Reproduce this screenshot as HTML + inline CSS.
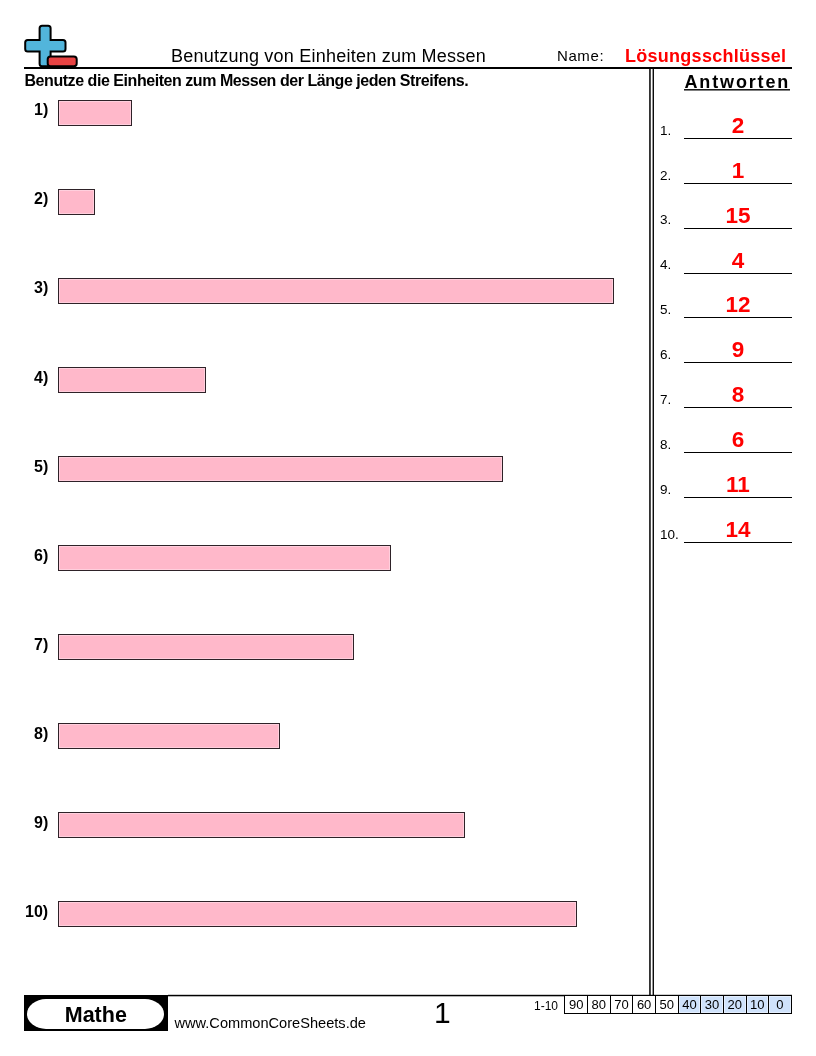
<!DOCTYPE html>
<html><head><meta charset="utf-8">
<style>
*{margin:0;padding:0;box-sizing:border-box}
html,body{width:816px;height:1056px;background:#fff;overflow:hidden}
body{position:relative;will-change:transform;font-family:"Liberation Sans",sans-serif;color:#000}
.a{position:absolute;white-space:nowrap}
.hline{position:absolute;background:#000}
.box{position:absolute;left:57.5px;height:26px;background:#ffb8ca;border:1px solid #2e2228;border-bottom-width:1.5px;box-shadow:inset 0 0 0 1px #ffcfdd}
.lbl{position:absolute;font-weight:bold;font-size:16px;line-height:16px}
.num{position:absolute;left:660px;font-size:13.5px;line-height:13px}
.ans{position:absolute;left:684px;width:108px;text-align:center;color:#f00;font-weight:bold;font-size:22.5px;line-height:22px}
.aline{position:absolute;left:684px;width:108px;height:1px;background:#000}
.cell{position:absolute;top:995px;height:19px;border:1px solid #000;font-size:13px;line-height:18px;text-align:center}
</style></head><body>
<svg class="a" style="left:0;top:0" width="100" height="80">
  <path d="M42.1 25.7 h6 a2.5 2.5 0 0 1 2.5 2.5 v11.9 h12.4 a2.5 2.5 0 0 1 2.5 2.5 v6.5 a2.5 2.5 0 0 1 -2.5 2.5 h-12.4 v12.2 a2.5 2.5 0 0 1 -2.5 2.5 h-6 a2.5 2.5 0 0 1 -2.5 -2.5 v-12.2 h-11.9 a2.5 2.5 0 0 1 -2.5 -2.5 v-6.5 a2.5 2.5 0 0 1 2.5 -2.5 h11.9 v-11.9 a2.5 2.5 0 0 1 2.5 -2.5z" fill="#52b5db" stroke="#000" stroke-width="2"/>
  <rect x="47.7" y="56.5" width="29" height="9.7" rx="2.8" fill="#e84343" stroke="#000" stroke-width="2"/>
</svg>
<div class="a" style="left:171px;top:45px;font-size:18px;line-height:22px;letter-spacing:0.23px">Benutzung von Einheiten zum Messen</div>
<div class="a" style="left:557px;top:47px;font-size:15px;line-height:18px;letter-spacing:0.6px">Name:</div>
<div class="a" style="left:625px;top:45.5px;font-size:18px;line-height:20px;color:#f00;font-weight:bold;letter-spacing:0.27px">Lösungsschlüssel</div>
<div class="hline" style="left:24px;top:67px;width:768px;height:2px"></div>
<div class="a" style="left:24.5px;top:72px;font-size:16px;line-height:17px;font-weight:bold;letter-spacing:-0.45px">Benutze die Einheiten zum Messen der Länge jeden Streifens.</div>
<svg class="a" style="left:640px;top:60px" width="20" height="940"><rect x="9.2" y="9" width="1.5" height="926" fill="#000"/><rect x="12.6" y="9" width="1.35" height="926" fill="#000"/></svg>
<div class="a" style="left:684.5px;top:72.5px;font-size:18px;line-height:19px;font-weight:bold;letter-spacing:1.85px">Antworten</div>
<svg class="a" style="left:680px;top:85px" width="120" height="10"><rect x="4" y="4.1" width="106" height="1.4" fill="#000"/></svg>
<div class="lbl" style="left:34px;top:102.4px">1)</div>
<div class="box" style="top:99.9px;width:74.50px"></div>
<div class="lbl" style="left:34px;top:191.4px">2)</div>
<div class="box" style="top:188.9px;width:37.45px"></div>
<div class="lbl" style="left:34px;top:280.4px">3)</div>
<div class="box" style="top:277.9px;width:556.15px"></div>
<div class="lbl" style="left:34px;top:369.5px">4)</div>
<div class="box" style="top:367.0px;width:148.60px"></div>
<div class="lbl" style="left:34px;top:458.5px">5)</div>
<div class="box" style="top:456.0px;width:445.00px"></div>
<div class="lbl" style="left:34px;top:547.5px">6)</div>
<div class="box" style="top:545.0px;width:333.85px"></div>
<div class="lbl" style="left:34px;top:636.5px">7)</div>
<div class="box" style="top:634.0px;width:296.80px"></div>
<div class="lbl" style="left:34px;top:725.5px">8)</div>
<div class="box" style="top:723.0px;width:222.70px"></div>
<div class="lbl" style="left:34px;top:814.6px">9)</div>
<div class="box" style="top:812.1px;width:407.95px"></div>
<div class="lbl" style="left:25px;top:903.6px">10)</div>
<div class="box" style="top:901.1px;width:519.10px"></div>
<div class="num" style="top:123.7px">1.</div>
<div class="ans" style="top:114.9px">2</div>
<div class="aline" style="top:138px"></div>
<div class="num" style="top:168.6px">2.</div>
<div class="ans" style="top:159.8px">1</div>
<div class="aline" style="top:183px"></div>
<div class="num" style="top:213.4px">3.</div>
<div class="ans" style="top:204.6px">15</div>
<div class="aline" style="top:228px"></div>
<div class="num" style="top:258.3px">4.</div>
<div class="ans" style="top:249.5px">4</div>
<div class="aline" style="top:273px"></div>
<div class="num" style="top:303.2px">5.</div>
<div class="ans" style="top:294.4px">12</div>
<div class="aline" style="top:317px"></div>
<div class="num" style="top:348.1px">6.</div>
<div class="ans" style="top:339.2px">9</div>
<div class="aline" style="top:362px"></div>
<div class="num" style="top:392.9px">7.</div>
<div class="ans" style="top:384.1px">8</div>
<div class="aline" style="top:407px"></div>
<div class="num" style="top:437.8px">8.</div>
<div class="ans" style="top:429.0px">6</div>
<div class="aline" style="top:452px"></div>
<div class="num" style="top:482.7px">9.</div>
<div class="ans" style="top:473.9px">11</div>
<div class="aline" style="top:497px"></div>
<div class="num" style="top:527.5px">10.</div>
<div class="ans" style="top:518.7px">14</div>
<div class="aline" style="top:542px"></div>
<svg class="a" style="left:160px;top:990px" width="640" height="10"><rect x="8" y="4.8" width="624" height="1.5" fill="#000"/></svg>
<div class="hline" style="left:24px;top:994.8px;width:143.5px;height:35.8px"></div>
<div class="a" style="left:27.3px;top:999px;width:137px;height:30px;background:#fff;border-radius:19px/15px;text-align:center;font-weight:bold;font-size:21.5px;line-height:32px;letter-spacing:0">Mathe</div>
<div class="a" style="left:174.5px;top:1014.5px;font-size:14.6px;line-height:17px">www.CommonCoreSheets.de</div>
<div class="a" style="left:434px;top:997px;font-size:30px;line-height:32px">1</div>
<div class="a" style="left:534px;top:998.5px;font-size:12px;line-height:14px">1-10</div>
<div class="cell" style="left:564.40px;width:23.64px;background:#fff">90</div>
<div class="cell" style="left:587.04px;width:23.64px;background:#fff">80</div>
<div class="cell" style="left:609.68px;width:23.64px;background:#fff">70</div>
<div class="cell" style="left:632.32px;width:23.64px;background:#fff">60</div>
<div class="cell" style="left:654.96px;width:23.64px;background:#fff">50</div>
<div class="cell" style="left:677.60px;width:23.64px;background:#cfe2fb;box-shadow:inset 0 0 0 1px #e4eefd">40</div>
<div class="cell" style="left:700.24px;width:23.64px;background:#cfe2fb;box-shadow:inset 0 0 0 1px #e4eefd">30</div>
<div class="cell" style="left:722.88px;width:23.64px;background:#cfe2fb;box-shadow:inset 0 0 0 1px #e4eefd">20</div>
<div class="cell" style="left:745.52px;width:23.64px;background:#cfe2fb;box-shadow:inset 0 0 0 1px #e4eefd">10</div>
<div class="cell" style="left:768.16px;width:23.64px;background:#cfe2fb;box-shadow:inset 0 0 0 1px #e4eefd">0</div>
</body></html>
